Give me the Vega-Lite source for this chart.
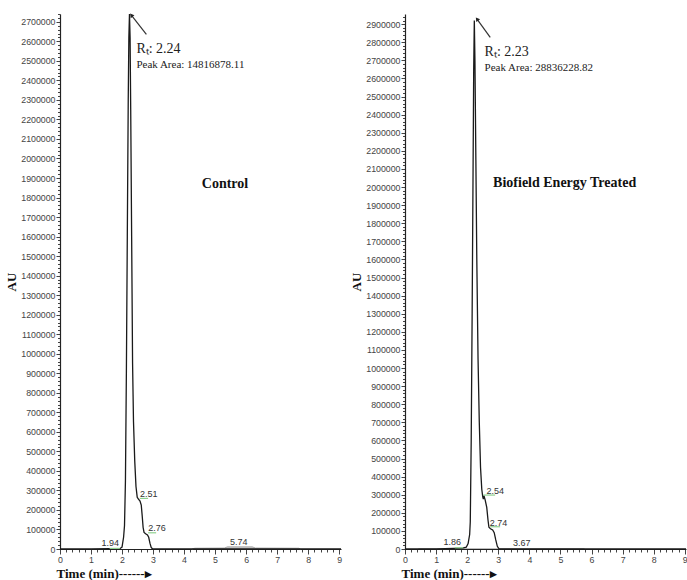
{
  "$schema": "https://vega.github.io/schema/vega-lite/v6.json",
  "padding": {"left": 5, "top": 10, "right": 0, "bottom": 0},
  "background": "white",
  "spacing": 6,
  "config": {
    "view": {"stroke": null},
    "axis": {
      "domainColor": "#222", "domainWidth": 1.2, "tickColor": "#444", "tickWidth": 1,
      "labelFont": "Liberation Sans", "labelFontSize": 8.8, "labelColor": "#444",
      "grid": false, "labelOverlap": false, "labelFlush": false,
      "titleFont": "Liberation Serif", "titleFontWeight": "bold", "titleColor": "#111", "titleFontSize": 13
    }
  },
  "datasets": {
    "L_curve": [
      {"t": 0, "v": 0}, {"t": 0.3, "v": 0}, {"t": 1.0, "v": 1000}, {"t": 1.6, "v": 2000}, {"t": 1.94, "v": 3000},
      {"t": 2.0, "v": 10000}, {"t": 2.05, "v": 60000}, {"t": 2.08, "v": 120000}, {"t": 2.11, "v": 350000},
      {"t": 2.14, "v": 900000}, {"t": 2.17, "v": 1600000}, {"t": 2.2, "v": 2300000}, {"t": 2.22, "v": 2620000},
      {"t": 2.24, "v": 2740000}, {"t": 2.26, "v": 2620000}, {"t": 2.28, "v": 2250000}, {"t": 2.31, "v": 1600000},
      {"t": 2.34, "v": 950000}, {"t": 2.37, "v": 650000}, {"t": 2.41, "v": 450000}, {"t": 2.45, "v": 320000},
      {"t": 2.49, "v": 265000}, {"t": 2.53, "v": 255000}, {"t": 2.58, "v": 245000}, {"t": 2.62, "v": 225000},
      {"t": 2.65, "v": 170000}, {"t": 2.68, "v": 110000}, {"t": 2.71, "v": 85000}, {"t": 2.76, "v": 78000},
      {"t": 2.82, "v": 72000}, {"t": 2.86, "v": 60000}, {"t": 2.9, "v": 30000}, {"t": 2.94, "v": 8000},
      {"t": 2.98, "v": 1000}, {"t": 3.3, "v": 0}, {"t": 4.3, "v": 1000}, {"t": 9.06, "v": 1000}
    ],
    "L_gray": [
      {"t": 4.25, "v": 0}, {"t": 4.35, "v": 4000}, {"t": 5.3, "v": 5000}, {"t": 5.4, "v": 11000},
      {"t": 6.2, "v": 11000}, {"t": 6.3, "v": 5000}, {"t": 7.7, "v": 4000}, {"t": 7.75, "v": 0}
    ],
    "L_green": [
      {"t": 1.6, "t2": 1.93, "v": 3000},
      {"t": 2.57, "t2": 2.84, "v": 259000},
      {"t": 2.84, "t2": 3.1, "v": 83000}
    ],
    "L_arrow": [{"t": 2.785, "v": 2635500, "t2": 2.3, "v2": 2734000}],
    "L_peaks": [
      {"t": 1.62, "v": 29000, "label": "1.94"},
      {"t": 2.86, "v": 280000, "label": "2.51"},
      {"t": 3.13, "v": 109000, "label": "2.76"},
      {"t": 5.76, "v": 37000, "label": "5.74"}
    ],
    "L_text": [
      {"t": 2.463, "v": 2558600, "label": "Rₜ: 2.24", "kind": "rt"},
      {"t": 2.463, "v": 2478200, "label": "Peak Area: 14816878.11", "kind": "area"},
      {"t": 5.32, "v": 1869000, "label": "Control", "kind": "title"}
    ],
    "R_curve": [
      {"t": 0, "v": 0}, {"t": 1.0, "v": 1000}, {"t": 1.85, "v": 5000}, {"t": 1.97, "v": 10000},
      {"t": 2.03, "v": 30000}, {"t": 2.08, "v": 80000}, {"t": 2.1, "v": 150000}, {"t": 2.13, "v": 600000},
      {"t": 2.16, "v": 1300000}, {"t": 2.19, "v": 2100000}, {"t": 2.21, "v": 2650000}, {"t": 2.23, "v": 2920000},
      {"t": 2.25, "v": 2700000}, {"t": 2.28, "v": 2150000}, {"t": 2.31, "v": 1600000}, {"t": 2.35, "v": 1050000},
      {"t": 2.39, "v": 700000}, {"t": 2.43, "v": 450000}, {"t": 2.47, "v": 330000}, {"t": 2.5, "v": 290000},
      {"t": 2.52, "v": 275000}, {"t": 2.54, "v": 295000}, {"t": 2.58, "v": 270000}, {"t": 2.63, "v": 230000},
      {"t": 2.67, "v": 160000}, {"t": 2.7, "v": 120000}, {"t": 2.75, "v": 112000}, {"t": 2.82, "v": 105000},
      {"t": 2.87, "v": 90000}, {"t": 2.92, "v": 50000}, {"t": 2.97, "v": 15000}, {"t": 3.02, "v": 2000},
      {"t": 3.2, "v": 0}, {"t": 9.04, "v": 0}
    ],
    "R_gray": [
      {"t": 0.4, "v": 0}, {"t": 0.45, "v": 6000}, {"t": 5.75, "v": 6000}, {"t": 5.8, "v": 0}
    ],
    "R_green": [
      {"t": 1.6, "t2": 1.87, "v": 7000},
      {"t": 2.52, "t2": 2.9, "v": 298000},
      {"t": 2.74, "t2": 3.06, "v": 123000}
    ],
    "R_arrow": [{"t": 2.742, "v": 2826500, "t2": 2.317, "v2": 2928200}],
    "R_peaks": [
      {"t": 1.52, "v": 37000, "label": "1.86"},
      {"t": 2.9, "v": 322000, "label": "2.54"},
      {"t": 3.01, "v": 141000, "label": "2.74"},
      {"t": 3.76, "v": 33000, "label": "3.67"}
    ],
    "R_text": [
      {"t": 2.56, "v": 2748600, "label": "Rₜ: 2.23", "kind": "rt"},
      {"t": 2.56, "v": 2656300, "label": "Peak Area: 28836228.82", "kind": "area"},
      {"t": 5.136, "v": 2023800, "label": "Biofield Energy Treated", "kind": "title"}
    ]
  },
  "hconcat": [
    {
      "width": 281, "height": 535,
      "layer": [
        {
          "data": {"name": "L_gray"},
          "mark": {"type": "area", "color": "#b5b5b5", "line": {"color": "#999", "strokeWidth": 0.8}},
          "encoding": {
            "x": {"field": "t", "type": "quantitative",
              "scale": {"domain": [0, 9.06], "nice": false, "zero": false},
              "axis": {"title": "Time (min)------▸", "tickCount": 1000,
                "values": [0,0.2,0.4,0.6,0.8,1,1.2,1.4,1.6,1.8,2,2.2,2.4,2.6,2.8,3,3.2,3.4,3.6,3.8,4,4.2,4.4,4.6,4.8,5,5.2,5.4,5.6,5.8,6,6.2,6.4,6.6,6.8,7,7.2,7.4,7.6,7.8,8,8.2,8.4,8.6,8.8,9],
                "labelExpr": "abs(datum.value - round(datum.value)) < 0.001 ? format(datum.value, 'd') : ''",
                "tickSize": {"condition": {"test": "abs(datum.value - round(datum.value)) < 0.001", "value": 5}, "value": 3},
                "labelPadding": 1, "titleAnchor": "start", "titleAlign": "left", "titleX": -4, "titleY": 28, "titleBaseline": "alphabetic"}},
            "y": {"field": "v", "type": "quantitative",
              "scale": {"domain": [0, 2740000], "nice": false},
              "axis": {"title": "AU", "tickCount": 1000,
                "values": [0,20000,40000,60000,80000,100000,120000,140000,160000,180000,200000,220000,240000,260000,280000,300000,320000,340000,360000,380000,400000,420000,440000,460000,480000,500000,520000,540000,560000,580000,600000,620000,640000,660000,680000,700000,720000,740000,760000,780000,800000,820000,840000,860000,880000,900000,920000,940000,960000,980000,1000000,1020000,1040000,1060000,1080000,1100000,1120000,1140000,1160000,1180000,1200000,1220000,1240000,1260000,1280000,1300000,1320000,1340000,1360000,1380000,1400000,1420000,1440000,1460000,1480000,1500000,1520000,1540000,1560000,1580000,1600000,1620000,1640000,1660000,1680000,1700000,1720000,1740000,1760000,1780000,1800000,1820000,1840000,1860000,1880000,1900000,1920000,1940000,1960000,1980000,2000000,2020000,2040000,2060000,2080000,2100000,2120000,2140000,2160000,2180000,2200000,2220000,2240000,2260000,2280000,2300000,2320000,2340000,2360000,2380000,2400000,2420000,2440000,2460000,2480000,2500000,2520000,2540000,2560000,2580000,2600000,2620000,2640000,2660000,2680000,2700000,2720000,2740000],
                "labelExpr": "datum.value % 100000 === 0 ? format(datum.value, 'd') : ''",
                "tickSize": {"condition": {"test": "datum.value % 100000 === 0", "value": 4}, "value": 2.5},
                "labelPadding": 1, "titlePadding": 2}}
          }
        },
        {
          "data": {"name": "L_curve"},
          "mark": {"type": "line", "color": "#1a1a1a", "strokeWidth": 1.3},
          "encoding": {"x": {"field": "t", "type": "quantitative"}, "y": {"field": "v", "type": "quantitative"}}
        },
        {
          "data": {"name": "L_green"},
          "mark": {"type": "rule", "color": "#8fd08f", "strokeWidth": 1.2},
          "encoding": {"x": {"field": "t", "type": "quantitative"}, "x2": {"field": "t2"}, "y": {"field": "v", "type": "quantitative"}}
        },
        {
          "data": {"name": "L_arrow"},
          "mark": {"type": "rule", "color": "#333", "strokeWidth": 1.2},
          "encoding": {"x": {"field": "t", "type": "quantitative"}, "x2": {"field": "t2"}, "y": {"field": "v", "type": "quantitative"}, "y2": {"field": "v2"}}
        },
        {
          "data": {"name": "L_arrow"},
          "mark": {"type": "point", "shape": "triangle-up", "filled": true, "color": "#222", "size": 22, "angle": -38, "opacity": 1},
          "encoding": {"x": {"field": "t2", "type": "quantitative"}, "y": {"field": "v2", "type": "quantitative"}}
        },
        {
          "data": {"name": "L_peaks"},
          "mark": {"type": "text", "font": "Liberation Sans", "fontSize": 9, "color": "#333"},
          "encoding": {"x": {"field": "t", "type": "quantitative"}, "y": {"field": "v", "type": "quantitative"}, "text": {"field": "label"}}
        },
        {
          "data": {"name": "L_text"},
          "transform": [{"filter": "datum.kind === 'rt'"}],
          "mark": {"type": "text", "font": "Liberation Serif", "fontSize": 14, "color": "#222", "align": "left", "baseline": "middle"},
          "encoding": {"x": {"field": "t", "type": "quantitative"}, "y": {"field": "v", "type": "quantitative"}, "text": {"field": "label"}}
        },
        {
          "data": {"name": "L_text"},
          "transform": [{"filter": "datum.kind === 'area'"}],
          "mark": {"type": "text", "font": "Liberation Serif", "fontSize": 11, "color": "#222", "align": "left", "baseline": "middle"},
          "encoding": {"x": {"field": "t", "type": "quantitative"}, "y": {"field": "v", "type": "quantitative"}, "text": {"field": "label"}}
        },
        {
          "data": {"name": "L_text"},
          "transform": [{"filter": "datum.kind === 'title'"}],
          "mark": {"type": "text", "font": "Liberation Serif", "fontSize": 14, "fontWeight": "bold", "color": "#111", "align": "center", "baseline": "middle"},
          "encoding": {"x": {"field": "t", "type": "quantitative"}, "y": {"field": "v", "type": "quantitative"}, "text": {"field": "label"}}
        }
      ]
    },
    {
      "width": 281, "height": 535,
      "layer": [
        {
          "data": {"name": "R_gray"},
          "mark": {"type": "area", "color": "#bdbdbd"},
          "encoding": {
            "x": {"field": "t", "type": "quantitative",
              "scale": {"domain": [0, 9.04], "nice": false, "zero": false},
              "axis": {"title": "Time (min)------▸", "tickCount": 1000,
                "values": [0,0.2,0.4,0.6,0.8,1,1.2,1.4,1.6,1.8,2,2.2,2.4,2.6,2.8,3,3.2,3.4,3.6,3.8,4,4.2,4.4,4.6,4.8,5,5.2,5.4,5.6,5.8,6,6.2,6.4,6.6,6.8,7,7.2,7.4,7.6,7.8,8,8.2,8.4,8.6,8.8,9],
                "labelExpr": "abs(datum.value - round(datum.value)) < 0.001 ? format(datum.value, 'd') : ''",
                "tickSize": {"condition": {"test": "abs(datum.value - round(datum.value)) < 0.001", "value": 5}, "value": 3},
                "labelPadding": 1, "titleAnchor": "start", "titleAlign": "left", "titleX": -4, "titleY": 28, "titleBaseline": "alphabetic"}},
            "y": {"field": "v", "type": "quantitative",
              "scale": {"domain": [0, 2956000], "nice": false},
              "axis": {"title": "AU", "tickCount": 1000,
                "values": [0,20000,40000,60000,80000,100000,120000,140000,160000,180000,200000,220000,240000,260000,280000,300000,320000,340000,360000,380000,400000,420000,440000,460000,480000,500000,520000,540000,560000,580000,600000,620000,640000,660000,680000,700000,720000,740000,760000,780000,800000,820000,840000,860000,880000,900000,920000,940000,960000,980000,1000000,1020000,1040000,1060000,1080000,1100000,1120000,1140000,1160000,1180000,1200000,1220000,1240000,1260000,1280000,1300000,1320000,1340000,1360000,1380000,1400000,1420000,1440000,1460000,1480000,1500000,1520000,1540000,1560000,1580000,1600000,1620000,1640000,1660000,1680000,1700000,1720000,1740000,1760000,1780000,1800000,1820000,1840000,1860000,1880000,1900000,1920000,1940000,1960000,1980000,2000000,2020000,2040000,2060000,2080000,2100000,2120000,2140000,2160000,2180000,2200000,2220000,2240000,2260000,2280000,2300000,2320000,2340000,2360000,2380000,2400000,2420000,2440000,2460000,2480000,2500000,2520000,2540000,2560000,2580000,2600000,2620000,2640000,2660000,2680000,2700000,2720000,2740000,2760000,2780000,2800000,2820000,2840000,2860000,2880000,2900000,2920000,2940000],
                "labelExpr": "datum.value % 100000 === 0 ? format(datum.value, 'd') : ''",
                "tickSize": {"condition": {"test": "datum.value % 100000 === 0", "value": 4}, "value": 2.5},
                "labelPadding": 1, "titlePadding": 2}}
          }
        },
        {
          "data": {"name": "R_curve"},
          "mark": {"type": "line", "color": "#1a1a1a", "strokeWidth": 1.3},
          "encoding": {"x": {"field": "t", "type": "quantitative"}, "y": {"field": "v", "type": "quantitative"}}
        },
        {
          "data": {"name": "R_green"},
          "mark": {"type": "rule", "color": "#8fd08f", "strokeWidth": 1.2},
          "encoding": {"x": {"field": "t", "type": "quantitative"}, "x2": {"field": "t2"}, "y": {"field": "v", "type": "quantitative"}}
        },
        {
          "data": {"name": "R_arrow"},
          "mark": {"type": "rule", "color": "#333", "strokeWidth": 1.2},
          "encoding": {"x": {"field": "t", "type": "quantitative"}, "x2": {"field": "t2"}, "y": {"field": "v", "type": "quantitative"}, "y2": {"field": "v2"}}
        },
        {
          "data": {"name": "R_arrow"},
          "mark": {"type": "point", "shape": "triangle-up", "filled": true, "color": "#222", "size": 22, "angle": -36, "opacity": 1},
          "encoding": {"x": {"field": "t2", "type": "quantitative"}, "y": {"field": "v2", "type": "quantitative"}}
        },
        {
          "data": {"name": "R_peaks"},
          "mark": {"type": "text", "font": "Liberation Sans", "fontSize": 9, "color": "#333"},
          "encoding": {"x": {"field": "t", "type": "quantitative"}, "y": {"field": "v", "type": "quantitative"}, "text": {"field": "label"}}
        },
        {
          "data": {"name": "R_text"},
          "transform": [{"filter": "datum.kind === 'rt'"}],
          "mark": {"type": "text", "font": "Liberation Serif", "fontSize": 14, "color": "#222", "align": "left", "baseline": "middle"},
          "encoding": {"x": {"field": "t", "type": "quantitative"}, "y": {"field": "v", "type": "quantitative"}, "text": {"field": "label"}}
        },
        {
          "data": {"name": "R_text"},
          "transform": [{"filter": "datum.kind === 'area'"}],
          "mark": {"type": "text", "font": "Liberation Serif", "fontSize": 11, "color": "#222", "align": "left", "baseline": "middle"},
          "encoding": {"x": {"field": "t", "type": "quantitative"}, "y": {"field": "v", "type": "quantitative"}, "text": {"field": "label"}}
        },
        {
          "data": {"name": "R_text"},
          "transform": [{"filter": "datum.kind === 'title'"}],
          "mark": {"type": "text", "font": "Liberation Serif", "fontSize": 14, "fontWeight": "bold", "color": "#111", "align": "center", "baseline": "middle"},
          "encoding": {"x": {"field": "t", "type": "quantitative"}, "y": {"field": "v", "type": "quantitative"}, "text": {"field": "label"}}
        }
      ]
    }
  ]
}
